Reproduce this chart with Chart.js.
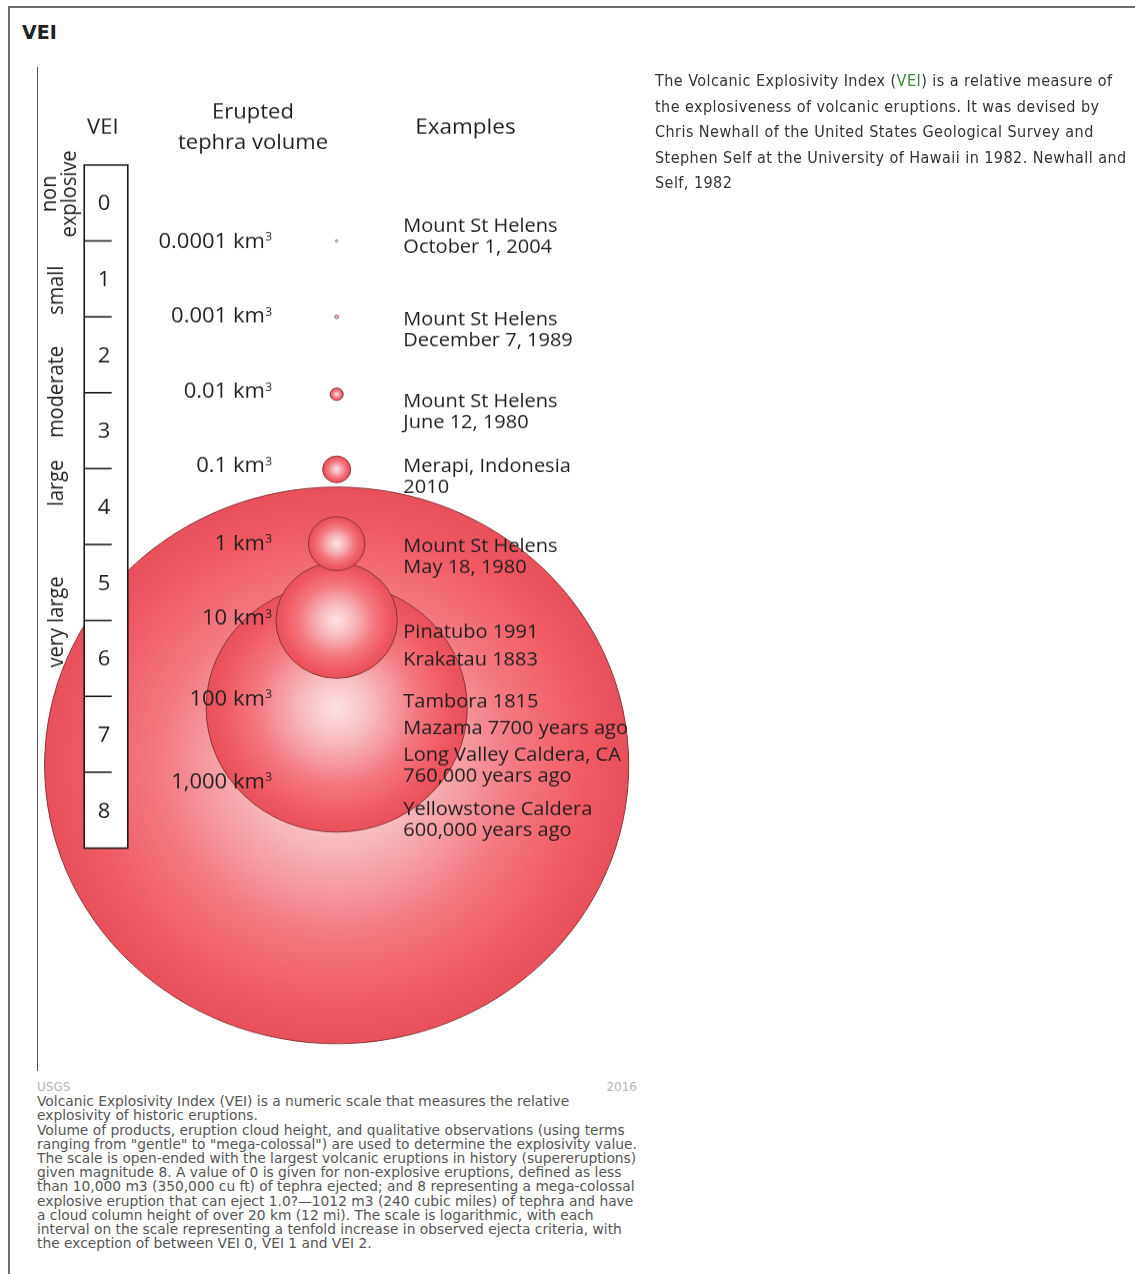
<!DOCTYPE html>
<html>
<head>
<meta charset="utf-8">
<title>VEI</title>
<script src="https://cdn.jsdelivr.net/npm/chart.js@4.4.0/dist/chart.umd.min.js"></script>
<style>
    html, body { margin: 0; padding: 0; background: #fff; overflow: hidden; }
    body { width: 1135px; height: 1274px; position: relative; }
    #frame { position: absolute; left: 8px; top: 6px; width: 1300px; height: 1400px;
             border: 2px solid #6e6e6e; box-sizing: border-box; }
    #title { position: absolute; left: 22px; top: 23px; font: bold 19px "DejaVu Sans"; line-height: 18px; color: #222; }
    #about { position: absolute; left: 655px; top: 68px; font-family: "DejaVu Sans Condensed", "DejaVu Sans";
             font-stretch: condensed; font-size: 16px; letter-spacing: 0.45px; line-height: 25.5px;
             color: #333; white-space: nowrap; }
    #about .tag { color: #3b8a3b; }
    #chartBox { position: absolute; left: 0; top: 67px; width: 660px; height: 1054px;
                transform: scaleY(0.953); transform-origin: 0 0; }
    #caption { position: absolute; left: 37px; top: 1080px; width: 600px; font: 13.8px "DejaVu Sans";
               line-height: 14.2px; color: #555; white-space: nowrap; }
    #caption .meta { display: flex; justify-content: space-between; color: #b5b5b5; font-size: 12px; }
</style>
</head>
<body>
<div id="frame"></div>
<div id="title">VEI</div>

<div id="chartBox"><canvas id="vei" width="660" height="1054"></canvas></div>

<div id="about">The Volcanic Explosivity Index (<span class="tag">VEI</span>) is a relative measure of<br>the explosiveness of volcanic eruptions. It was devised by<br>Chris Newhall of the United States Geological Survey and<br>Stephen Self at the University of Hawaii in 1982. Newhall and<br>Self, 1982</div>

<div id="caption">
    <div class="meta"><span>USGS</span><span>2016</span></div>
    Volcanic Explosivity Index (VEI) is a numeric scale that measures the relative<br>
    explosivity of historic eruptions.<br>
    Volume of products, eruption cloud height, and qualitative observations (using terms<br>
    ranging from "gentle" to "mega-colossal") are used to determine the explosivity value.<br>
    The scale is open-ended with the largest volcanic eruptions in history (supereruptions)<br>
    given magnitude 8. A value of 0 is given for non-explosive eruptions, defined as less<br>
    than 10,000 m3 (350,000 cu ft) of tephra ejected; and 8 representing a mega-colossal<br>
    explosive eruption that can eject 1.0?—1012 m3 (240 cubic miles) of tephra and have<br>
    a cloud column height of over 20 km (12 mi). The scale is logarithmic, with each<br>
    interval on the scale representing a tenfold increase in observed ejecta criteria, with<br>
    the exception of between VEI 0, VEI 1 and VEI 2.
</div>

<script>
// VEI steps and the words used for them
const veiLevels = ['0', '1', '2', '3', '4', '5', '6', '7', '8'];
const sizeClasses = ['non\nexplosive', 'small', 'moderate', 'large', 'very large'];

// erupted tephra volume (km3) at each step boundary
const volumes = [0.0001, 0.001, 0.01, 0.1, 1, 10, 100, 1000];
const volumeLabels = ['0.0001 km³', '0.001 km³', '0.01 km³', '0.1 km³', '1 km³', '10 km³', '100 km³', '1,000 km³'];

// sphere radius, in VEI steps
const sphereRadius = [0.015, 0.025, 0.082, 0.176, 0.355, 0.762, 1.639, 3.667];

const examples = [
    'Mount St Helens\nOctober 1, 2004',
    'Mount St Helens\nDecember 7, 1989',
    'Mount St Helens\nJune 12, 1980',
    'Merapi, Indonesia\n2010',
    'Mount St Helens\nMay 18, 1980',
    'Pinatubo 1991',
    'Krakatau 1883',
    'Tambora 1815',
    'Mazama 7700 years ago',
    'Long Valley Caldera, CA\n760,000 years ago',
    'Yellowstone Caldera\n600,000 years ago'
];


/* layout (x in VEI steps from the axis line, y in VEI steps from the top of the ladder) */
const col = { ladderL: 0.593, ladderR: 1.140, tickR: 0.938, level: 0.843,
              volumeR: 2.947, sphere: 3.763, exampleL: 4.60 };
const sphereShift = [0, 0, 0.02, 0.01, -0.01, 0, 0.15, -0.09];     // big spheres sit off their line
const volumeShift = [-0.01, -0.02, -0.03, -0.05, -0.03, -0.04, 0.02, 0.11];
const classPlace = [[0.38, [0.24, 0.49]], [1.65, [0.326]], [2.99, [0.326]], [4.19, [0.326]], [6.02, [0.326]]];
const examplePlace = [0.79, 2.016, 3.096, 3.953, 5.007, 6.14, 6.508, 7.062, 7.404, 7.76, 8.472];
const lineGap = 0.277;
const FONT = '"Open Sans", "Noto Sans", sans-serif';
const INK = '#231f20';

// a volume sits on the boundary of its VEI step (0.0001 km3 -> step 1)
function stepOf(volume) {
    return Math.log10(volume) + 5;
}

let sphereData = volumes.map(function (v, i) {
    return { x: col.sphere, y: stepOf(v) + sphereShift[i], s: sphereRadius[i] };
}).reverse();   // biggest first, so the small ones lie on top


function stepPixels(chart, steps) {
    let ys = chart.scales.y;
    let d = Math.abs(ys.getPixelForValue(steps) - ys.getPixelForValue(0));
    return isFinite(d) ? d : 0;
}

function sphereFill(ctx) {
    let p = ctx.raw;
    let chart = ctx.chart;
    if (!p || !chart.scales.x || !chart.scales.y) return '#ee5d68';
    let cx = chart.scales.x.getPixelForValue(p.x);
    let cy = chart.scales.y.getPixelForValue(p.y);
    let r = Math.max(stepPixels(chart, p.s), 1);
    if (!isFinite(cx) || !isFinite(cy)) return '#ee5d68';
    let g = chart.ctx.createRadialGradient(cx, cy, 0, cx, cy, r);
    g.addColorStop(0, '#fce3e5');
    g.addColorStop(0.3, '#f8b6bb');
    g.addColorStop(0.6, '#f37b84');
    g.addColorStop(0.85, '#f05a65');
    g.addColorStop(1, '#e8505c');
    return g;
}

function sphereEdge(ctx) {
    // the two smallest read as grey specks
    return ctx.raw && ctx.raw.s < 0.03 ? '#8c8c8c' : '#8a3338';
}


function text(c, str, x, y, size, align) {
    c.font = `${size}px ${FONT}`;
    c.textAlign = align;
    c.textBaseline = 'alphabetic';
    c.fillText(str, x, y + 0.357 * size);   // y is the middle of the capitals
}

// "10 km³" with a small raised 3, right aligned on x
function volumeText(c, str, x, y, size) {
    let body = str.replace('³', '');
    let supSize = Math.round(size * 0.55);
    c.textBaseline = 'alphabetic';
    c.textAlign = 'left';
    c.font = `${supSize}px ${FONT}`;
    let supW = c.measureText('3').width;
    c.font = `${size}px ${FONT}`;
    let bodyW = c.measureText(body).width;
    let base = y + 0.357 * size;
    c.fillText(body, x - supW - bodyW, base);
    c.font = `${supSize}px ${FONT}`;
    c.fillText('3', x - supW + 0.5, base - size * 0.34);
}

const ladderPlugin = {
    id: 'ladder',
    afterDatasetsDraw(chart) {
        let c = chart.ctx;
        let xs = chart.scales.x, ys = chart.scales.y;
        let px = u => xs.getPixelForValue(u);
        let py = v => ys.getPixelForValue(v);
        c.save();

        /* the VEI ladder */
        let top = py(0), bottom = py(veiLevels.length);
        c.fillStyle = '#fff';
        c.fillRect(px(col.ladderL), top, px(col.ladderR) - px(col.ladderL), bottom - top);
        c.strokeStyle = '#1b1b1b';
        c.lineWidth = 1.6;
        c.strokeRect(px(col.ladderL), top, px(col.ladderR) - px(col.ladderL), bottom - top);
        for (let k = 1; k < veiLevels.length; k++) {
            c.beginPath();
            c.moveTo(px(col.ladderL), py(k));
            c.lineTo(px(col.tickR), py(k));
            c.stroke();
        }

        c.fillStyle = INK;
        veiLevels.forEach(function (lvl, k) {
            text(c, lvl, px(col.level), py(k + 0.5), 22, 'center');
        });

        /* headers */
        text(c, 'VEI', px(0.826), py(-0.507), 22, 'center');
        text(c, 'Erupted', px(2.712), py(-0.711), 22, 'center');
        text(c, 'tephra volume', px(2.712), py(-0.316), 22, 'center');
        text(c, 'Examples', px(5.38), py(-0.514), 22.5, 'center');

        /* volumes */
        volumeLabels.forEach(function (lab, i) {
            volumeText(c, lab, px(col.volumeR), py(stepOf(volumes[i]) + volumeShift[i]), 22);
        });

        /* examples */
        examples.forEach(function (ex, i) {
            ex.split('\n').forEach(function (line, j) {
                text(c, line, px(col.exampleL), py(examplePlace[i] + j * lineGap), 20, 'left');
            });
        });

        /* size classes, written upwards */
        c.font = `21px ${FONT}`;
        c.textAlign = 'center';
        c.textBaseline = 'alphabetic';
        sizeClasses.forEach(function (name, i) {
            let place = classPlace[i];
            name.split('\n').forEach(function (line, j) {
                c.save();
                c.translate(px(place[1][j]), py(place[0]));
                c.rotate(-Math.PI / 2);
                c.fillText(line, 0, 0);
                c.restore();
            });
        });

        c.restore();
    }
};


let veiChart = new Chart(document.getElementById('vei'), {
    type: 'bubble',
    data: {
        datasets: [{
            data: sphereData,
            backgroundColor: sphereFill,
            borderColor: sphereEdge,
            borderWidth: 1,
            clip: false
        }]
    },
    options: {
        responsive: false,
        animation: false,
        events: [],
        layout: { autoPadding: false, padding: { left: 37, right: 0, top: 0, bottom: 0 } },
        plugins: { legend: { display: false }, tooltip: { enabled: false } },
        scales: {
            x: { type: 'linear', display: false, min: 0, max: 7.823 },
            y: {
                type: 'linear', reverse: true, min: -1.291, max: 11.943,
                grid: { display: false, drawTicks: false },
                ticks: { display: false },
                border: { display: true, color: '#555', width: 1 }
            }
        }
    },
    plugins: [ladderPlugin]
});

// sphere sizes are in VEI steps: now that the y scale is laid out, turn them into pixels
veiChart.data.datasets[0].data.forEach(function (p) {
    p.r = Math.max(stepPixels(veiChart, p.s), 1);
});
veiChart.update();
</script>
</body>
</html>
